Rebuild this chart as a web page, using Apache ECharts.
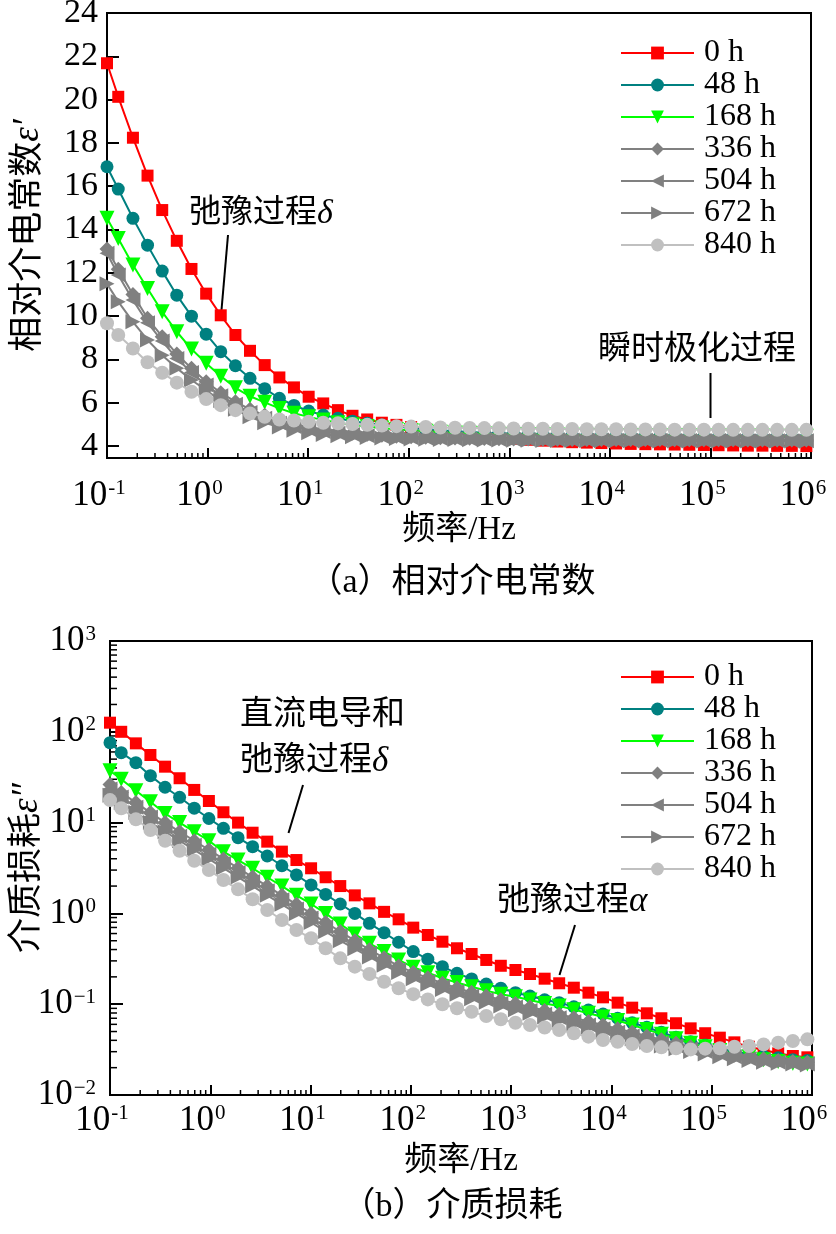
<!DOCTYPE html>
<html><head><meta charset="utf-8">
<script src="https://cdn.jsdelivr.net/npm/echarts@6/dist/echarts.min.js"></script>
<style>html,body{margin:0;padding:0;background:#fff}#c{width:836px;height:1234px}</style>
</head><body><div id="c"></div>
<script>
// ---------------- data ----------------
const freqHz = [0.1, 0.1294, 0.1811, 0.2529, 0.354, 0.4943, 0.6918, 0.9683, 1.352, 1.892,
  2.642, 3.698, 5.176, 7.228, 10.12, 14.13, 19.77, 27.61, 38.64, 54.08,
  75.51, 105.7, 147.6, 206.5, 288.4, 403.6, 564.9, 788.9, 1104, 1542,
  2158, 3013, 4217, 5902, 8241, 11535, 16106, 22542, 31477, 44055,
  61660, 86099, 120504, 168267, 235505, 328852, 460257, 644169, 899498];
const seriesNames = ['0 h', '48 h', '168 h', '336 h', '504 h', '672 h', '840 h'];

const perm0h = [21.68, 20.13, 18.24, 16.49, 14.90, 13.48, 12.18, 11.04, 10.04, 9.13, 8.40, 7.74, 7.17, 6.71, 6.28, 5.97, 5.66, 5.40, 5.23, 5.08, 4.98, 4.88, 4.78, 4.69, 4.61, 4.53, 4.46, 4.40, 4.34, 4.29, 4.25, 4.21, 4.18, 4.16, 4.14, 4.12, 4.10, 4.09, 4.08, 4.07, 4.06, 4.05, 4.04, 4.03, 4.02, 4.02, 4.01, 4.01, 4.00];
const perm48h = [16.90, 15.87, 14.52, 13.28, 12.08, 10.97, 10.0, 9.17, 8.36, 7.71, 7.13, 6.65, 6.21, 5.88, 5.62, 5.43, 5.28, 5.15, 5.05, 4.97, 4.90, 4.84, 4.78, 4.73, 4.69, 4.65, 4.62, 4.59, 4.57, 4.55, 4.53, 4.51, 4.50, 4.49, 4.48, 4.47, 4.46, 4.46, 4.45, 4.45, 4.44, 4.44, 4.44, 4.43, 4.43, 4.43, 4.43, 4.42, 4.42];
const perm168h = [14.52, 13.59, 12.36, 11.28, 10.20, 9.28, 8.48, 7.82, 7.23, 6.69, 6.30, 6.02, 5.74, 5.52, 5.35, 5.20, 5.08, 4.98, 4.90, 4.83, 4.77, 4.72, 4.68, 4.64, 4.61, 4.59, 4.57, 4.55, 4.54, 4.53, 4.52, 4.51, 4.50, 4.50, 4.49, 4.49, 4.49, 4.48, 4.48, 4.48, 4.48, 4.47, 4.47, 4.47, 4.47, 4.47, 4.46, 4.46, 4.46];
const perm336h = [13.10, 12.17, 11.00, 9.90, 9.05, 8.25, 7.59, 6.97, 6.46, 6.05, 5.70, 5.42, 5.20, 5.02, 4.88, 4.77, 4.68, 4.61, 4.55, 4.50, 4.46, 4.43, 4.41, 4.39, 4.37, 4.36, 4.35, 4.34, 4.33, 4.33, 4.32, 4.32, 4.31, 4.31, 4.31, 4.30, 4.30, 4.30, 4.30, 4.29, 4.29, 4.29, 4.29, 4.29, 4.28, 4.28, 4.28, 4.28, 4.28];
const perm504h = [12.90, 11.90, 10.75, 9.70, 8.85, 8.05, 7.40, 6.82, 6.33, 5.93, 5.55, 5.28, 5.06, 4.90, 4.77, 4.67, 4.59, 4.53, 4.48, 4.44, 4.41, 4.39, 4.37, 4.35, 4.34, 4.33, 4.32, 4.31, 4.30, 4.30, 4.29, 4.29, 4.28, 4.28, 4.28, 4.27, 4.27, 4.27, 4.27, 4.26, 4.26, 4.26, 4.26, 4.26, 4.25, 4.25, 4.25, 4.25, 4.25];
const perm672h = [11.50, 10.67, 9.74, 8.90, 8.20, 7.60, 7.05, 6.58, 6.10, 5.70, 5.35, 5.08, 4.88, 4.73, 4.62, 4.54, 4.48, 4.43, 4.40, 4.37, 4.35, 4.33, 4.32, 4.31, 4.30, 4.29, 4.28, 4.28, 4.27, 4.27, 4.26, 4.26, 4.26, 4.25, 4.25, 4.25, 4.25, 4.24, 4.24, 4.24, 4.24, 4.24, 4.23, 4.23, 4.23, 4.23, 4.23, 4.23, 4.22];
const perm840h = [9.67, 9.13, 8.51, 7.87, 7.39, 6.93, 6.51, 6.17, 5.89, 5.66, 5.51, 5.35, 5.23, 5.18, 5.12, 5.08, 5.05, 5.02, 4.98, 4.95, 4.92, 4.90, 4.88, 4.86, 4.85, 4.84, 4.83, 4.82, 4.81, 4.80, 4.80, 4.79, 4.79, 4.78, 4.78, 4.78, 4.77, 4.77, 4.77, 4.76, 4.76, 4.76, 4.76, 4.75, 4.75, 4.75, 4.75, 4.75, 4.75];

const loss0h = [126, 100, 74.6, 55.5, 41.3, 30.8, 22.9, 17.3, 13.0, 10.0, 7.74, 6.17, 4.79, 3.87, 3.14, 2.50, 2.00, 1.58, 1.29, 1.04, 0.861, 0.697, 0.578, 0.488, 0.413, 0.357, 0.307, 0.265, 0.238, 0.215, 0.191, 0.170, 0.152, 0.134, 0.119, 0.104, 0.0916, 0.0794, 0.070, 0.0617, 0.0542, 0.0479, 0.0428, 0.038, 0.034, 0.0313, 0.0288, 0.0269, 0.026];
const loss48h = [75.9, 58.9, 45.7, 32.9, 24.5, 19.0, 14.4, 11.1, 8.65, 6.82, 5.43, 4.29, 3.35, 2.65, 2.06, 1.62, 1.27, 1.0, 0.778, 0.614, 0.481, 0.380, 0.313, 0.259, 0.219, 0.190, 0.167, 0.150, 0.134, 0.123, 0.112, 0.104, 0.0938, 0.0863, 0.078, 0.070, 0.0625, 0.0557, 0.049, 0.0433, 0.0386, 0.0355, 0.0324, 0.0302, 0.0282, 0.0269, 0.0257, 0.0245, 0.024];
const loss168h = [37.3, 30.0, 22.4, 17.0, 12.6, 10.0, 7.94, 6.31, 4.79, 3.87, 3.14, 2.50, 2.0, 1.58, 1.27, 1.0, 0.764, 0.593, 0.468, 0.380, 0.307, 0.255, 0.222, 0.193, 0.173, 0.156, 0.141, 0.129, 0.121, 0.111, 0.102, 0.0955, 0.0871, 0.0794, 0.0724, 0.0661, 0.0589, 0.0525, 0.0468, 0.0417, 0.0372, 0.0339, 0.0309, 0.0282, 0.0263, 0.0245, 0.0234, 0.0224, 0.0219];
const loss336h = [26.3, 21.4, 16.6, 12.9, 10.0, 7.94, 6.31, 5.01, 3.98, 3.16, 2.51, 2.0, 1.58, 1.26, 1.0, 0.794, 0.631, 0.501, 0.398, 0.324, 0.263, 0.224, 0.195, 0.170, 0.151, 0.135, 0.123, 0.112, 0.102, 0.0933, 0.0851, 0.0776, 0.0708, 0.0646, 0.0589, 0.0537, 0.049, 0.0447, 0.0407, 0.0372, 0.0339, 0.0316, 0.0295, 0.0275, 0.0263, 0.0251, 0.024, 0.0234, 0.0229];
const loss504h = [23.4, 19.1, 14.8, 11.5, 8.91, 7.08, 5.62, 4.47, 3.55, 2.82, 2.24, 1.78, 1.41, 1.12, 0.891, 0.708, 0.569, 0.452, 0.363, 0.295, 0.240, 0.204, 0.178, 0.155, 0.138, 0.123, 0.112, 0.102, 0.0933, 0.0851, 0.0776, 0.0708, 0.0646, 0.0589, 0.0537, 0.049, 0.0447, 0.0407, 0.0372, 0.0347, 0.0324, 0.0302, 0.0282, 0.0263, 0.0251, 0.024, 0.0229, 0.0224, 0.0219];
const loss672h = [20.0, 16.6, 12.9, 10.0, 7.94, 6.31, 5.01, 3.98, 3.16, 2.51, 2.0, 1.58, 1.26, 1.0, 0.794, 0.631, 0.501, 0.407, 0.331, 0.269, 0.224, 0.191, 0.166, 0.145, 0.129, 0.115, 0.105, 0.0955, 0.0871, 0.0794, 0.0724, 0.0661, 0.0603, 0.055, 0.0501, 0.0457, 0.0417, 0.038, 0.0347, 0.0324, 0.0302, 0.0282, 0.0263, 0.0251, 0.024, 0.0229, 0.0224, 0.0219, 0.0214];
const loss840h = [17.7, 14.4, 10.9, 8.28, 6.31, 4.90, 3.80, 3.01, 2.33, 1.84, 1.43, 1.09, 0.845, 0.656, 0.532, 0.413, 0.320, 0.259, 0.215, 0.177, 0.150, 0.129, 0.113, 0.100, 0.0902, 0.0826, 0.0741, 0.0682, 0.0625, 0.059, 0.0553, 0.052, 0.0479, 0.0439, 0.0404, 0.0386, 0.0365, 0.0347, 0.0335, 0.0327, 0.0318, 0.0324, 0.0327, 0.034, 0.0347, 0.0361, 0.0377, 0.0394, 0.041];

const permTicks = [4, 6, 8, 10, 12, 14, 16, 18, 20, 22, 24];
const freqDecades = [-1, 0, 1, 2, 3, 4, 5, 6];
const lossDecades = [-2, -1, 0, 1, 2, 3];

// ---------------- styles ----------------
const LAT = 'Liberation Serif';
const FONT = '"Liberation Serif", "Noto Sans CJK SC"';
const looks = [
  { color: '#ff0000', symbol: 'rect', size: 12, rotate: 0 },
  { color: '#008080', symbol: 'circle', size: 13, rotate: 0 },
  { color: '#00ff00', symbol: 'triangle', size: 15, rotate: 180 },
  { color: '#808080', symbol: 'diamond', size: 15, rotate: 0 },
  { color: '#808080', symbol: 'triangle', size: 15, rotate: 90 },
  { color: '#808080', symbol: 'triangle', size: 15, rotate: -90 },
  { color: '#c0c0c0', symbol: 'circle', size: 14, rotate: 0 }
];
const permSets = [perm0h, perm48h, perm168h, perm336h, perm504h, perm672h, perm840h];
const lossSets = [loss0h, loss48h, loss168h, loss336h, loss504h, loss672h, loss840h];

function minorsBetween(lo, hi) {
  const out = [];
  for (let e = lo; e < hi; e++) for (let m = 2; m <= 9; m++) out.push(m * Math.pow(10, e));
  return out;
}
const xMinor = minorsBetween(-1, 6);
const yMinorB = minorsBetween(-2, 3);
const xMajor = freqDecades.map(e => Math.pow(10, e));
const yMajorB = lossDecades.map(e => Math.pow(10, e));

function expLabel(v, minus) {
  const e = Math.round(Math.log10(v));
  const s = e < 0 ? minus + (-e) : String(e);
  return '{b|10}{s|' + s + '}';
}
const richPow = {
  b: { fontFamily: LAT, fontSize: 35, color: '#000', verticalAlign: 'bottom' },
  s: { fontFamily: LAT, fontSize: 21, color: '#000', verticalAlign: 'top', padding: [0, 0, 14, 1] }
};

function makeSeries(sets, xi, yi) {
  return sets.map((vals, k) => ({
    name: seriesNames[k], type: 'line', xAxisIndex: xi, yAxisIndex: yi,
    data: freqHz.map((f, i) => [f, vals[i]]),
    symbol: looks[k].symbol, symbolSize: looks[k].size, symbolRotate: looks[k].rotate,
    showAllSymbol: true,
    lineStyle: { color: looks[k].color, width: 2 },
    itemStyle: { color: looks[k].color },
    emphasis: { disabled: true }, z: 2 + k
  }));
}

const grids = [
  { left: 107, right: 25, top: 13, height: 445, show: true, borderColor: '#000', borderWidth: 2, backgroundColor: 'transparent', containLabel: false, outerBoundsMode: 'none' },
  { left: 110, right: 24, top: 641, height: 454, show: true, borderColor: '#000', borderWidth: 2, backgroundColor: 'transparent', containLabel: false, outerBoundsMode: 'none' }
];

function xMain(gi, margin, nameGap) {
  return {
    type: 'log', logBase: 10, gridIndex: gi, min: 0.1, max: 1e6, position: 'bottom',
    axisLine: { show: true, onZero: false, lineStyle: { color: '#000', width: 2 } },
    axisTick: { show: true, inside: true, length: 10, lineStyle: { color: '#000', width: 2 }, customValues: xMajor },
    axisLabel: { show: true, margin: margin, customValues: xMajor, formatter: v => expLabel(v, '-'), rich: richPow, padding: [0, 16, 0, 0] },
    splitLine: { show: false }, minorTick: { show: false },
    name: '频率/Hz', nameLocation: 'middle', nameGap: nameGap,
    nameTextStyle: { fontFamily: FONT, fontSize: 33, color: '#000' }
  };
}
const yNameStyle = { fontFamily: FONT, fontSize: 35, color: '#000',
  rich: { g: { fontFamily: LAT, fontStyle: 'italic', fontSize: 37, color: '#000' } } };

const annotations = [
  { type: 'text', left: 189, top: 197, style: { text: '弛豫过程{g|δ}', fontFamily: FONT, fontSize: 32, fill: '#000',
    rich: { g: { fontFamily: LAT, fontStyle: 'italic', fontSize: 34, fill: '#000' } } } },
  { type: 'line', shape: { x1: 228, y1: 235, x2: 221.5, y2: 310 }, style: { stroke: '#000', lineWidth: 2 } },
  { type: 'text', left: 598, top: 334, style: { text: '瞬时极化过程', fontFamily: FONT, fontSize: 33, fill: '#000' } },
  { type: 'line', shape: { x1: 710.5, y1: 373, x2: 710.5, y2: 418 }, style: { stroke: '#000', lineWidth: 2 } },
  { type: 'text', left: 240, top: 699, style: { text: '直流电导和', fontFamily: FONT, fontSize: 33, fill: '#000' } },
  { type: 'text', left: 240, top: 744, style: { text: '弛豫过程{g|δ}', fontFamily: FONT, fontSize: 33, fill: '#000',
    rich: { g: { fontFamily: LAT, fontStyle: 'italic', fontSize: 35, fill: '#000' } } } },
  { type: 'line', shape: { x1: 303, y1: 785, x2: 288.5, y2: 833 }, style: { stroke: '#000', lineWidth: 2 } },
  { type: 'text', left: 497, top: 884, style: { text: '弛豫过程{g|α}', fontFamily: FONT, fontSize: 33, fill: '#000',
    rich: { g: { fontFamily: LAT, fontStyle: 'italic', fontSize: 35, fill: '#000' } } } },
  { type: 'line', shape: { x1: 575, y1: 925, x2: 559.5, y2: 975 }, style: { stroke: '#000', lineWidth: 2 } },
  { type: 'text', x: 452, y: 583, style: { text: '（a）相对介电常数', fontFamily: FONT, fontSize: 34, fill: '#000', textAlign: 'center', textVerticalAlign: 'middle' } },
  { type: 'text', x: 452, y: 1207, style: { text: '（b）介质损耗', fontFamily: FONT, fontSize: 34, fill: '#000', textAlign: 'center', textVerticalAlign: 'middle' } }
];

const option = {
  animation: false,
  backgroundColor: '#fff',
  grid: grids,
  xAxis: [xMain(0, 20, 46), xMain(1, 8, 50)],
  yAxis: [
    {
      type: 'value', gridIndex: 0, min: 3.45, max: 24,
      axisLine: { show: true, onZero: false, lineStyle: { color: '#000', width: 2 } },
      axisTick: { show: true, inside: true, length: 12, lineStyle: { color: '#000', width: 2 }, customValues: permTicks },
      axisLabel: { customValues: permTicks, fontFamily: LAT, fontSize: 34, color: '#000', margin: 9 },
      splitLine: { show: false },
      name: '相对介电常数{g|ε′}', nameLocation: 'middle', nameGap: 60, nameMoveOverlap: false, nameTextStyle: yNameStyle
    },
    {
      type: 'log', logBase: 10, gridIndex: 1, min: 0.01, max: 1000,
      axisLine: { show: true, onZero: false, lineStyle: { color: '#000', width: 2 } },
      axisTick: { show: true, inside: true, length: 13, lineStyle: { color: '#000', width: 2 }, customValues: yMajorB },
      axisLabel: { customValues: yMajorB, formatter: v => expLabel(v, '−'), rich: richPow, margin: 14 },
      splitLine: { show: false },
      name: '介质损耗{g|ε″}', nameLocation: 'middle', nameGap: 64, nameMoveOverlap: false, nameTextStyle: yNameStyle
    }
  ],
  legend: [0, 1].map(i => ({
    data: seriesNames, orient: 'vertical', left: 615, top: i === 0 ? 32 : 656,
    itemWidth: 73, itemHeight: 16, itemGap: 0, selectedMode: false,
    textStyle: { fontFamily: LAT, fontSize: 32, lineHeight: 32, color: '#000', padding: [0, 0, 0, 5] }
  })),
  series: [...makeSeries(permSets, 0, 0), ...makeSeries(lossSets, 1, 1)],
  graphic: annotations
};

const chart = echarts.init(document.getElementById('c'), null, { renderer: 'canvas' });
chart.setOption(option);

// minor ticks (log decades 2..9) placed through the axes' own scales
const tickG = [];
const yBottomA = chart.convertToPixel({ yAxisIndex: 0 }, 3.45);
const yBottomB = chart.convertToPixel({ yAxisIndex: 1 }, 0.01);
const xLeftB = chart.convertToPixel({ xAxisIndex: 1 }, 0.1);
xMinor.forEach(v => {
  const xa = chart.convertToPixel({ xAxisIndex: 0 }, v);
  const xb = chart.convertToPixel({ xAxisIndex: 1 }, v);
  tickG.push({ type: 'line', silent: true, shape: { x1: xa, y1: yBottomA, x2: xa, y2: yBottomA - 5 }, style: { stroke: '#000', lineWidth: 1.5 } });
  tickG.push({ type: 'line', silent: true, shape: { x1: xb, y1: yBottomB, x2: xb, y2: yBottomB - 5 }, style: { stroke: '#000', lineWidth: 1.5 } });
});
yMinorB.forEach(v => {
  const y = chart.convertToPixel({ yAxisIndex: 1 }, v);
  tickG.push({ type: 'line', silent: true, shape: { x1: xLeftB, y1: y, x2: xLeftB + 7, y2: y }, style: { stroke: '#000', lineWidth: 1.5 } });
});
chart.setOption({ graphic: annotations.concat(tickG) });
</script>
</body></html>
